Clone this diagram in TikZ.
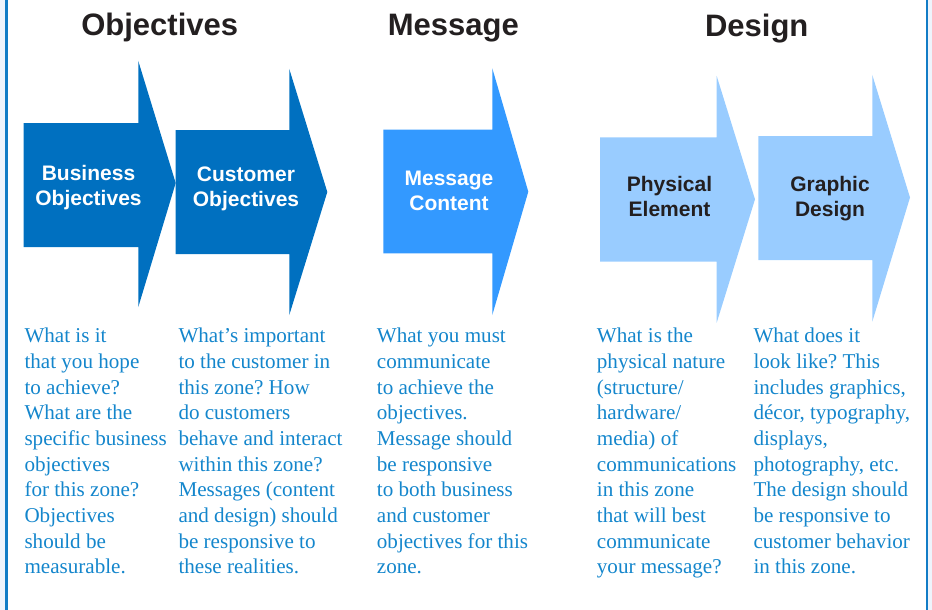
\documentclass[tikz,border=0pt]{standalone}
\usepackage{fontspec}
\setmainfont{Liberation Serif}
\setsansfont{Liberation Sans}
\frenchspacing
\definecolor{darkblue}{RGB}{0,112,192}
\definecolor{midblue}{RGB}{51,153,255}
\definecolor{lightblue}{RGB}{153,204,255}
\definecolor{bodyblue}{RGB}{20,134,204}
\definecolor{edgeblue}{RGB}{18,124,198}
\definecolor{tint}{RGB}{238,244,252}
\definecolor{titlegray}{RGB}{35,31,32}
\tikzset{
  title/.style={font=\sffamily\bfseries\fontsize{31}{36}\selectfont, text=titlegray, inner sep=0pt, anchor=base},
  arrowlabel/.style={font=\sffamily\bfseries\fontsize{21}{25}\selectfont, align=center, inner sep=0pt, anchor=north},
  bodytext/.style={font=\frenchspacing\fontsize{21.1}{25.65}\selectfont, text=bodyblue, align=left, inner sep=0pt, anchor=north west},
}
\begin{document}
\begin{tikzpicture}[x=1pt,y=-1pt]
\useasboundingbox (0,0) rectangle (932,610);
% edge tint and side rules
\fill[tint] (0,0) rectangle (5.2,610);
\fill[tint] (928.2,0) rectangle (932,610);
\fill[edgeblue] (5.2,0) rectangle (7.6,610);
\fill[edgeblue] (925.8,0) rectangle (928.2,610);
% titles
\node[title] (tObj) at (159.7,36) {Objectives};
\node[title] (tMsg) at (453.3,36) {Message};
\node[title] (tDes) at (756.7,36.5) {Design};
% arrows
\fill[darkblue] (23.5,123) -- (138.3,123) -- (138.3,61) -- (175.7,183) -- (138.3,307) -- (138.3,247) -- (23.5,247) -- cycle;
\fill[darkblue] (175.7,130) -- (289.3,130) -- (289.3,69) -- (327.3,192) -- (289.3,315) -- (289.3,254) -- (175.7,254) -- cycle;
\fill[midblue] (383.3,129.5) -- (492.3,129.5) -- (492.3,68.3) -- (528.3,191.7) -- (492.3,315) -- (492.3,253.3) -- (383.3,253.3) -- cycle;
\fill[lightblue] (600,137.3) -- (716.7,137.3) -- (716.7,76) -- (755,199.3) -- (716.7,322.7) -- (716.7,261.7) -- (600,261.7) -- cycle;
\fill[lightblue] (758.3,136) -- (872.3,136) -- (872.3,75) -- (910,197.5) -- (872.3,321.7) -- (872.3,260) -- (758.3,260) -- cycle;
% arrow labels
\node[arrowlabel, text=white] (aBus) at (88.5,162.5) {\strut Business\\Objectives};
\node[arrowlabel, text=white] (aCus) at (246,163.5) {\strut Customer\\Objectives};
\node[arrowlabel, text=white] (aMsg) at (449,168) {\strut Message\\Content};
\node[arrowlabel, text=titlegray] (aPhy) at (669.5,173.5) {\strut Physical\\Element};
\node[arrowlabel, text=titlegray] (aGra) at (830,173.5) {\strut Graphic\\Design};
% body columns
\node[bodytext] (c1) at (24.3,324.7) {\strut What is it\\that you hope\\to achieve?\\What are the\\specific business\\objectives\\for this zone?\\Objectives\\should be\\measurable.};
\node[bodytext] (c2) at (178.3,324.7) {\strut What’s important\\to the customer in\\this zone? How\\do customers\\behave and interact\\within this zone?\\Messages (content\\and design) should\\be responsive to\\these realities.};
\node[bodytext] (c3) at (376.7,324.7) {\strut What you must\\communicate\\to achieve the\\objectives.\\Message should\\be responsive\\to both business\\and customer\\objectives for this\\zone.};
\node[bodytext] (c4) at (596.7,324.7) {\strut What is the\\physical nature\\(structure/\\hardware/\\media) of\\communications\\in this zone\\that will best\\communicate\\your message?};
\node[bodytext] (c5) at (753.3,324.7) {\strut What does it\\look like? This\\includes graphics,\\décor, typography,\\displays,\\photography, etc.\\The design should\\be responsive to\\customer behavior\\in this zone.};
\end{tikzpicture}
\end{document}
